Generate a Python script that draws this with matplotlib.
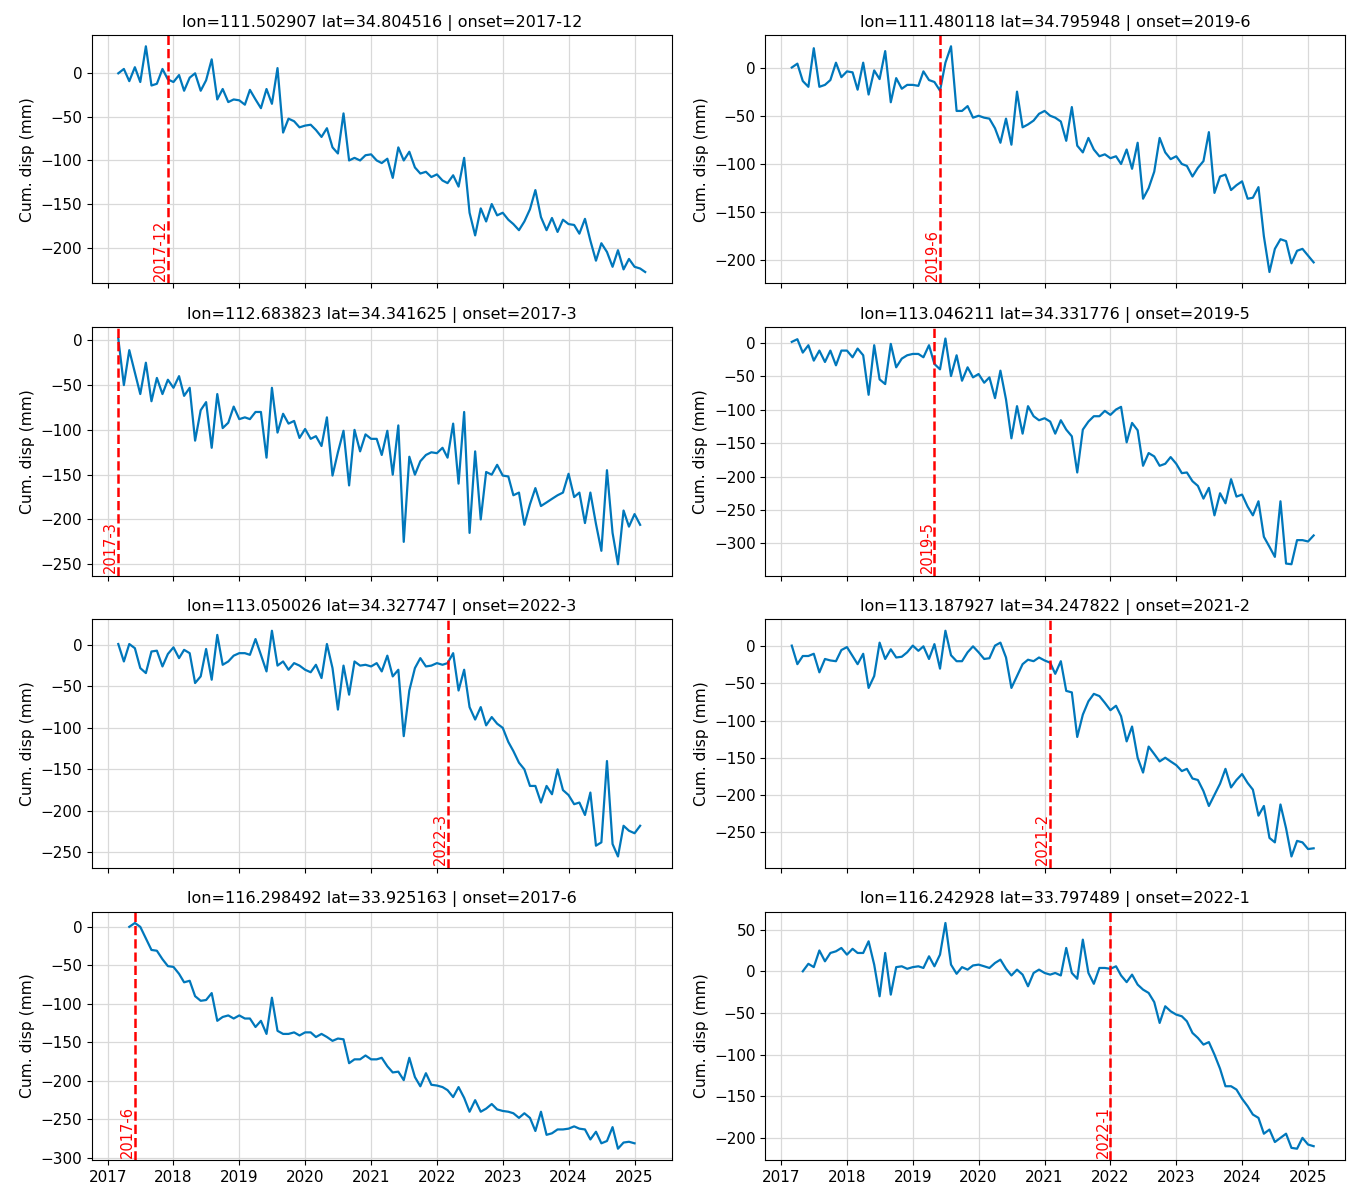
import numpy as np
import pandas as pd
import matplotlib
matplotlib.use("Agg")
import matplotlib.pyplot as plt
import matplotlib.dates as mdates
import matplotlib.transforms as mtransforms

# point metadata
lons = ["111.502907", "111.480118", "112.683823", "113.046211",
        "113.050026", "113.187927", "116.298492", "116.242928"]
lats = ["34.804516", "34.795948", "34.341625", "34.331776",
        "34.327747", "34.247822", "33.925163", "33.797489"]
onsets = ["2017-12", "2019-6", "2017-3", "2019-5",
          "2022-3", "2021-2", "2017-6", "2022-1"]
starts = ["2017-03", "2017-03", "2017-03", "2017-03",
          "2017-03", "2017-03", "2017-05", "2017-05"]

# cumulative displacement (mm), roughly monthly samples
disp1 = [0, 5, -9, 7, -10, 31, -14, -12, 5, -7,
         -10, -2, -20, -5, 0, -20, -8, 16, -30, -18,
         -33, -30, -31, -36, -19, -30, -40, -18, -35, 6,
         -68, -52, -55, -62, -60, -59, -65, -73, -63, -85,
         -92, -46, -100, -97, -100, -94, -93, -100, -103, -98,
         -120, -85, -100, -90, -108, -115, -113, -119, -116, -123,
         -126, -117, -130, -97, -160, -186, -155, -170, -150, -163,
         -160, -168, -173, -180, -170, -156, -134, -165, -180, -166,
         -182, -168, -173, -174, -184, -167, -192, -215, -195, -205,
         -222, -203, -225, -213, -222, -224, -228]
disp2 = [0, 4, -14, -20, 20, -20, -18, -13, 5, -10,
         -4, -5, -23, 5, -28, -3, -12, 17, -36, -11,
         -22, -18, -18, -19, -4, -13, -15, -24, 5, 22,
         -45, -45, -40, -52, -50, -52, -53, -63, -78, -53,
         -80, -25, -62, -59, -55, -48, -45, -50, -52, -56,
         -76, -41, -81, -88, -73, -85, -92, -90, -94, -92,
         -100, -85, -105, -78, -136, -125, -108, -73, -88, -95,
         -92, -100, -102, -113, -104, -97, -67, -130, -113, -111,
         -127, -122, -118, -136, -135, -124, -175, -212, -188, -178,
         -180, -203, -190, -188, -195, -202]
disp3 = [2, -50, -11, -36, -60, -25, -68, -42, -60, -44,
         -53, -40, -62, -53, -112, -78, -69, -120, -60, -98,
         -92, -74, -88, -86, -88, -80, -80, -131, -53, -103,
         -82, -93, -90, -109, -99, -110, -107, -118, -86, -151,
         -125, -101, -162, -100, -124, -105, -110, -110, -128, -101,
         -150, -95, -225, -130, -150, -135, -128, -125, -126, -120,
         -131, -93, -160, -80, -215, -124, -200, -147, -150, -139,
         -151, -152, -173, -170, -206, -183, -165, -185, -181, -177,
         -173, -170, -149, -175, -170, -204, -170, -205, -235, -145,
         -215, -250, -190, -208, -194, -206]
disp4 = [1, 5, -15, -4, -27, -12, -29, -12, -34, -12,
         -12, -22, -9, -19, -78, -4, -55, -62, -2, -37,
         -24, -19, -17, -17, -22, -4, -32, -40, 6, -50,
         -19, -57, -37, -52, -47, -60, -52, -83, -42, -85,
         -143, -95, -136, -95, -110, -116, -113, -118, -136, -116,
         -130, -140, -194, -130, -118, -110, -110, -102, -108, -100,
         -96, -149, -120, -131, -184, -165, -170, -184, -181, -171,
         -181, -195, -194, -207, -214, -233, -217, -258, -225, -240,
         -204, -230, -227, -245, -258, -237, -290, -305, -320, -237,
         -330, -331, -295, -295, -297, -288]
disp5 = [1, -20, 1, -4, -28, -34, -8, -7, -26, -11,
         -3, -16, -6, -10, -46, -38, -5, -42, 12, -24,
         -20, -13, -10, -10, -12, 7, -12, -32, 17, -25,
         -20, -30, -22, -25, -30, -33, -24, -40, 1, -28,
         -78, -25, -60, -20, -25, -24, -26, -22, -32, -13,
         -38, -30, -110, -55, -28, -16, -26, -25, -22, -24,
         -22, -10, -55, -30, -75, -90, -75, -97, -87, -95,
         -100, -117, -128, -142, -150, -170, -170, -190, -170, -180,
         -150, -175, -181, -192, -190, -205, -178, -242, -238, -140,
         -240, -255, -218, -224, -227, -218]
disp6 = [1, -24, -13, -13, -10, -35, -17, -19, -20, -5,
         -1, -13, -24, -10, -56, -40, 5, -17, -4, -15,
         -14, -8, 1, -6, 0, -17, 3, -30, 21, -12,
         -20, -20, -8, 0, -8, -17, -16, 1, 5, -15,
         -56, -40, -24, -18, -20, -15, -19, -22, -37, -20,
         -60, -62, -122, -92, -74, -64, -67, -76, -86, -80,
         -94, -128, -108, -150, -170, -135, -145, -155, -150, -155,
         -160, -168, -165, -178, -180, -195, -215, -200, -185, -165,
         -190, -180, -172, -184, -193, -228, -215, -258, -264, -213,
         -245, -283, -262, -264, -273, -272]
disp7 = [0, 5, 0, -15, -30, -31, -42, -51, -52, -61,
         -72, -70, -90, -96, -95, -86, -122, -117, -115, -119,
         -115, -119, -119, -130, -122, -139, -92, -135, -139, -139,
         -137, -141, -137, -137, -143, -139, -143, -148, -145, -146,
         -177, -172, -172, -167, -172, -172, -170, -181, -189, -188,
         -199, -170, -195, -207, -190, -205, -206, -208, -212, -221,
         -208, -222, -240, -225, -240, -236, -230, -237, -239, -240,
         -242, -248, -242, -248, -265, -240, -270, -268, -263, -263,
         -262, -259, -262, -263, -276, -266, -281, -278, -260, -288,
         -280, -279, -281]
disp8 = [0, 9, 5, 25, 12, 22, 24, 28, 20, 27,
         22, 22, 36, 8, -30, 22, -28, 5, 6, 3,
         5, 6, 4, 18, 6, 20, 58, 8, -3, 5,
         2, 7, 8, 6, 4, 10, 14, 3, -5, 2,
         -4, -18, -2, 2, -2, -4, -2, -5, 28, -2,
         -9, 38, -2, -15, 4, 4, 3, 6, -5, -13,
         -4, -16, -22, -26, -37, -62, -42, -48, -52, -54,
         -60, -74, -80, -88, -85, -100, -117, -138, -138, -142,
         -153, -162, -172, -176, -195, -190, -205, -200, -195, -212,
         -213, -200, -208, -210]

series = [disp1, disp2, disp3, disp4, disp5, disp6, disp7, disp8]

plt.rcParams["font.family"] = "DejaVu Sans"
plt.rcParams["font.size"] = 11

fig, axes = plt.subplots(4, 2, figsize=(13.6, 11.95), dpi=100, sharex=True)
fig.subplots_adjust(left=0.0676, right=0.989, top=0.9707, bottom=0.0293,
                    wspace=0.162, hspace=0.177)

for i, ax in enumerate(axes.flat):
    dates = pd.date_range(starts[i], periods=len(series[i]), freq="MS")
    ax.plot(dates, series[i], color="#0077bb", lw=1.6)

    onset = pd.Timestamp(onsets[i] + "-01")
    ax.axvline(onset, color="red", ls="--", lw=1.8)
    trans = mtransforms.blended_transform_factory(ax.transData, ax.transAxes)
    ax.text(onset, 0.01, onsets[i], color="red", rotation=90,
            ha="right", va="bottom", fontsize=10.5, transform=trans)

    ax.set_title("lon={} lat={} | onset={}".format(lons[i], lats[i], onsets[i]),
                 fontsize=11.5)
    ax.set_ylabel("Cum. disp (mm)", fontsize=11.2)
    ax.grid(True, color="0.85", lw=0.9)
    ax.set_axisbelow(True)

ax = axes[-1, 0]
ax.xaxis.set_major_locator(mdates.YearLocator())
ax.xaxis.set_major_formatter(mdates.DateFormatter("%Y"))

plt.savefig("out.png", dpi=100)
